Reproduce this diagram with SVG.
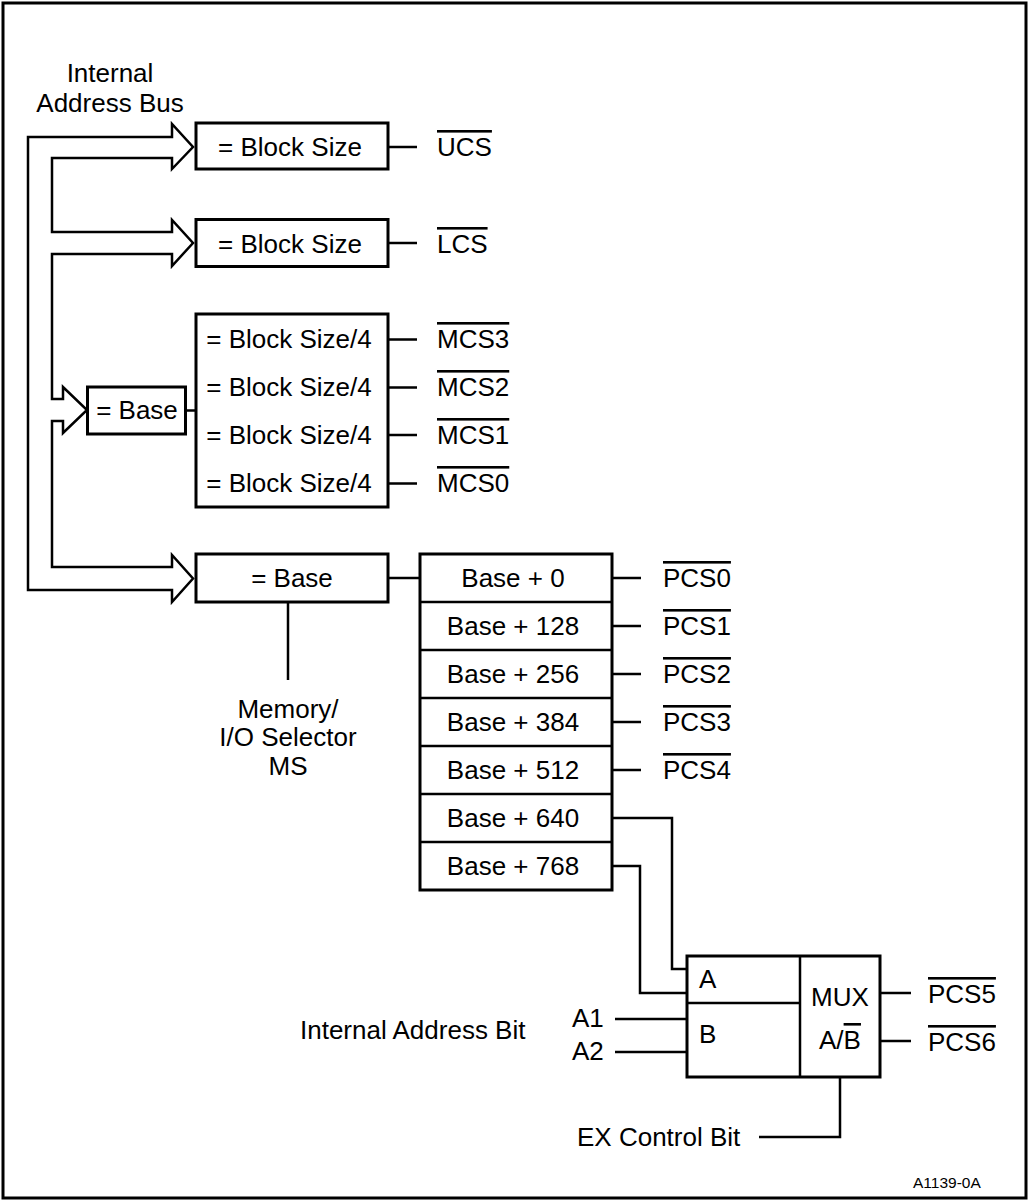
<svg xmlns="http://www.w3.org/2000/svg" width="1029" height="1201" viewBox="0 0 1029 1201">
<style>
text{font-family:"Liberation Sans",Arial,sans-serif;font-size:26px;fill:#000}
.m{text-anchor:middle}
.ov{text-decoration:overline}
.box{fill:#fff;stroke:#000;stroke-width:3}
.ln{fill:none;stroke:#000;stroke-width:2.5;stroke-linejoin:miter}
.small{font-size:15.5px}
</style>
<rect x="3" y="3" width="1023" height="1195" fill="#fff" stroke="#000" stroke-width="3"/>
<g id="bus">
<path class="ln" d="M28 137 L172 137 L172 124 L193 147 L172 169 L172 158 L52 158 L52 232 L172 232 L172 220 L193 243 L172 266 L172 254 L52 254 L52 399 L63 399 L63 387 L87 410 L63 433 L63 421 L52 421 L52 567 L172 567 L172 555 L193 578.5 L172 602 L172 590 L28 590 Z"/>
<text class="m" x="110" y="82">Internal</text>
<text class="m" x="110" y="112">Address Bus</text>
</g>
<g id="connectors">
<path class="ln" d="M388 147 H417"/>
<path class="ln" d="M388 243 H417"/>
<path class="ln" d="M186 410.5 H196"/>
<path class="ln" d="M388 339.5 H417 M388 387.5 H417 M388 435 H417 M388 483.5 H417"/>
<path class="ln" d="M388 578 H420"/>
<path class="ln" d="M288 602 V680"/>
<path class="ln" d="M612 578 H641 M612 626 H641 M612 674 H641 M612 722 H641 M612 770 H641"/>
<path class="ln" d="M612 818 H672 V969 H687"/>
<path class="ln" d="M612 866 H640 V993 H687"/>
<path class="ln" d="M615 1019 H687 M615 1052 H687"/>
<path class="ln" d="M880 993 H911 M880 1041 H911"/>
<path class="ln" d="M840 1077 V1137 H759"/>
</g>
<g id="ucs-cmp">
<rect class="box" x="196" y="123" width="192" height="46"/>
<text class="m" x="290" y="156">= Block Size</text>
<text class="ov" x="437" y="156">UCS</text>
</g>
<g id="lcs-cmp">
<rect class="box" x="196" y="219.5" width="192" height="47"/>
<text class="m" x="290" y="253">= Block Size</text>
<text class="ov" x="437" y="253">LCS</text>
</g>
<g id="mcs-base">
<rect class="box" x="87.5" y="387" width="98" height="47"/>
<text class="m" x="137" y="419">= Base</text>
</g>
<g id="mcs-block">
<rect class="box" x="196" y="314" width="192" height="193"/>
<text class="m" x="289" y="348">= Block Size/4</text>
<text class="m" x="289" y="396">= Block Size/4</text>
<text class="m" x="289" y="444">= Block Size/4</text>
<text class="m" x="289" y="492">= Block Size/4</text>
<text class="ov" x="437" y="348">MCS3</text>
<text class="ov" x="437" y="396">MCS2</text>
<text class="ov" x="437" y="444">MCS1</text>
<text class="ov" x="437" y="492">MCS0</text>
</g>
<g id="pcs-base">
<rect class="box" x="196" y="554" width="192" height="48"/>
<text class="m" x="292" y="587">= Base</text>
<text class="m" x="288" y="718">Memory/</text>
<text class="m" x="288" y="746">I/O Selector</text>
<text class="m" x="288" y="775">MS</text>
</g>
<g id="pcs-stack">
<rect class="box" x="420" y="554" width="192" height="336"/>
<path class="ln" stroke-width="3" d="M420 602 H612 M420 650 H612 M420 698 H612 M420 746 H612 M420 794 H612 M420 842 H612"/>
<text class="m" x="513" y="587">Base + 0</text>
<text class="m" x="513" y="635">Base + 128</text>
<text class="m" x="513" y="683">Base + 256</text>
<text class="m" x="513" y="731">Base + 384</text>
<text class="m" x="513" y="779">Base + 512</text>
<text class="m" x="513" y="827">Base + 640</text>
<text class="m" x="513" y="875">Base + 768</text>
<text class="ov" x="663" y="587">PCS0</text>
<text class="ov" x="663" y="635">PCS1</text>
<text class="ov" x="663" y="683">PCS2</text>
<text class="ov" x="663" y="731">PCS3</text>
<text class="ov" x="663" y="779">PCS4</text>
</g>
<g id="mux">
<rect class="box" x="687" y="956" width="193" height="121"/>
<path class="ln" stroke-width="3" d="M800 956 V1077 M687 1003 H800"/>
<text x="699" y="988">A</text>
<text x="699" y="1043">B</text>
<text class="m" x="840" y="1006">MUX</text>
<text class="m" x="840" y="1049">A/<tspan class="ov">B</tspan></text>
<text class="ov" x="928" y="1003">PCS5</text>
<text class="ov" x="928" y="1051">PCS6</text>
</g>
<g id="address-bits">
<text x="300" y="1039">Internal Address Bit</text>
<text x="572" y="1027">A1</text>
<text x="572" y="1060">A2</text>
</g>
<g id="ex-control">
<text x="577" y="1146">EX Control Bit</text>
</g>
<text class="small" x="913" y="1188">A1139-0A</text>
</svg>
